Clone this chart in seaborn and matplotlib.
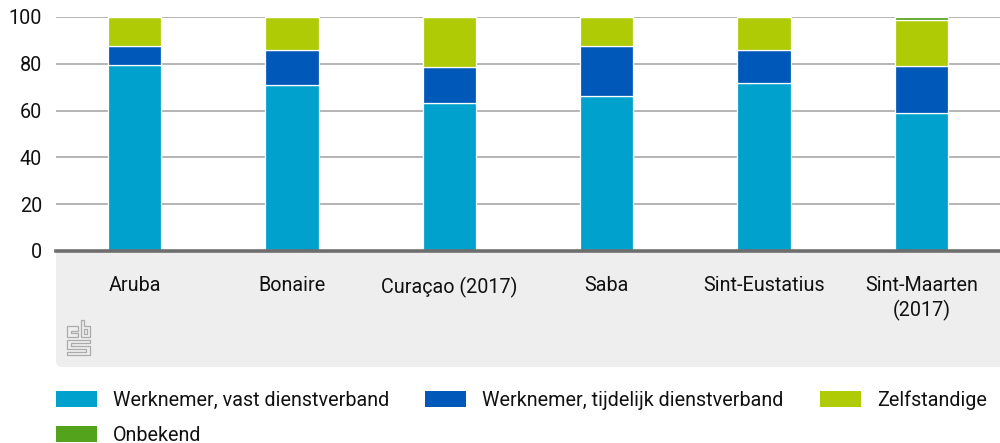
import matplotlib
matplotlib.use("Agg")
import matplotlib.pyplot as plt
from matplotlib.patches import FancyBboxPatch, Patch
import pandas as pd
import seaborn as sns

categories = ["Aruba", "Bonaire", "Curaçao (2017)", "Saba", "Sint-Eustatius", "Sint-Maarten\n(2017)"]
vast = [79.5, 71.0, 63.3, 66.0, 71.8, 58.8]
tijdelijk = [8.0, 14.7, 15.2, 21.5, 13.9, 20.2]
zelfstandig = [12.5, 14.3, 21.5, 12.5, 14.3, 19.6]
onbekend = [0, 0, 0, 0, 0, 1.4]
series_names = ["Werknemer, vast dienstverband", "Werknemer, tijdelijk dienstverband", "Zelfstandige", "Onbekend"]
colors = ["#00A1CD", "#0058B8", "#AFCB05", "#53A31D"]
y_ticks = [0, 20, 40, 60, 80, 100]

FS = 14.2
FPX = FS * 100 / 72

sns.set_theme(style="white")
plt.rcParams["font.family"] = ["Roboto", "DejaVu Sans"]
W, H = 1000, 443
fig = plt.figure(figsize=(W / 100, H / 100), dpi=100, facecolor="white")
ax = fig.add_axes([56 / W, 1 - 250.8 / H, 944 / W, (250.8 - 17) / H])
ax.set_facecolor("white")

# Grey panel below the axis: its top edge is hidden behind the white axes background
panel = FancyBboxPatch((56, H - 367), 960, 130,
                       boxstyle="round,pad=0,rounding_size=6", transform=None,
                       facecolor="#EEEEEE", edgecolor="none", zorder=-5)
fig.add_artist(panel)

df = pd.DataFrame({"cat": categories, "a": vast, "b": tijdelijk, "c": zelfstandig, "d": onbekend})
bottom = [0.0] * len(categories)
for col, name, color in zip(["a", "b", "c", "d"], series_names, colors):
    sns.barplot(data=df, x="cat", y=col, color=color, saturation=1, width=0.337, bottom=bottom,
                ax=ax, edgecolor="#FFFFFF", linewidth=0.9, zorder=3, errorbar=None)
    bottom = [b + v for b, v in zip(bottom, df[col])]

ax.set_xlim(-0.5, 5.5)
ax.set_ylim(0, 100)
ax.set_yticks(y_ticks)
ax.set_xlabel("")
ax.set_ylabel("")
ax.yaxis.grid(True, color="#A8A8A8", linewidth=1.2, zorder=0)
ax.xaxis.grid(False)
ax.set_axisbelow(True)
for s in ["top", "right", "left"]:
    ax.spines[s].set_visible(False)
ax.spines["bottom"].set_color("#6E6E6E")
ax.spines["bottom"].set_linewidth(2.6)
ax.spines["bottom"].set_zorder(5)
ax.tick_params(axis="x", length=0, pad=18.5, labelsize=FS, labelcolor="#111111")
ax.tick_params(axis="y", length=0, pad=10, labelsize=FS, labelcolor="#111111")
for t in ax.get_xticklabels():
    t.set_linespacing(1.25)
    t.set_verticalalignment("top")

# CBS logo (decorative)
def px(points):
    return [p[0] / W for p in points], [1 - p[1] / H for p in points]
logo = [
    [(67, 326), (78, 326), (78, 331), (71, 331), (71, 333), (78, 333), (78, 337), (67, 337), (67, 326)],
    [(81, 320), (84, 320), (84, 326), (90, 326), (90, 337), (81, 337), (81, 320)],
    [(84, 329), (87, 329), (87, 334), (84, 334), (84, 329)],
    [(67, 340), (90, 340), (90, 343), (71, 343), (71, 346), (90, 346), (90, 355), (67, 355), (67, 352), (86, 352), (86, 349), (67, 349), (67, 340)],
]
for seg in logo:
    xs, ys = px(seg)
    fig.add_artist(plt.Line2D(xs, ys, color="#ABABAB", linewidth=0.9, transform=fig.transFigure))

order = [0, 3, 1, 2]
handles = [Patch(facecolor=colors[i], edgecolor="none", label=series_names[i]) for i in order]
fig.legend(handles=handles, ncol=3, loc="upper left", bbox_to_anchor=(56 / W, 1 - 390 / H),
           frameon=False, fontsize=FS, labelcolor="#111111", borderaxespad=0, borderpad=0,
           handlelength=41 / FPX, handleheight=17 / FPX, handletextpad=16 / FPX,
           columnspacing=36 / FPX, labelspacing=16 / FPX)
fig.savefig("out.png", dpi=100)
